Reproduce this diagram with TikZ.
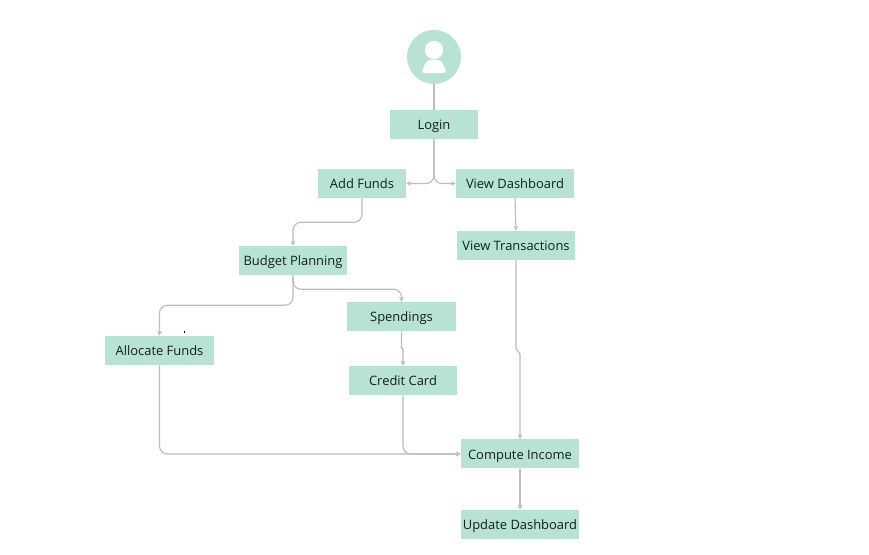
\documentclass[tikz,border=0pt]{standalone}
\usepackage{fontspec}
\setmainfont{Open Sans}
\usetikzlibrary{arrows.meta}
\definecolor{boxfill}{HTML}{B8E2D3}
\definecolor{linegrey}{HTML}{B9BDBC}
\definecolor{inktext}{HTML}{10211D}
\tikzset{
  flowbox/.style={fill=boxfill,text=inktext,inner sep=0pt,minimum height=21.75pt,text height=8.6pt,text depth=0.6pt,font=\fontsize{9.7pt}{11pt}\selectfont},
  wbox/.style={flowbox,minimum width=81.4pt},
  nbox/.style={flowbox,minimum width=66pt},
  mbox/.style={flowbox,minimum width=88.5pt},
  link/.style={draw=linegrey,line width=0.85pt,rounded corners=6pt},
  arrowlink/.style={link,-{Stealth[length=3.6pt,width=3.6pt]}}
}
\begin{document}
\begin{tikzpicture}[x=0.75pt,y=-0.75pt]
\useasboundingbox (0,0) rectangle (869,555);
\node[fill=boxfill,circle,minimum size=40.5pt,inner sep=0pt] (user) at (434,57) {};
\fill[white] (434,50) circle (9.2);
\fill[white,rounded corners=2.5pt] (421,73) -- (427,60) -- (441,60) -- (447,73) -- cycle;
\node[nbox] (login) at (434,124.5) {Login};
\node[nbox] (add) at (362,183.5) {Add Funds};
\node[mbox] (vd) at (515,183.5) {View Dashboard};
\node[mbox] (vt) at (516,245.5) {View Transactions};
\node[wbox] (bp) at (293,260.5) {Budget Planning};
\node[wbox] (sp) at (401.5,316.5) {Spendings};
\node[wbox] (af) at (159.5,350.5) {Allocate Funds};
\node[wbox] (cc) at (403,380.5) {Credit Card};
\node[mbox] (ci) at (520,454) {Compute Income};
\node[mbox] (ud) at (520,524.5) {Update Dashboard};
\fill[black] (183.6,331) rectangle (185,332.6);
\draw[link] (user.south) -- (login.north);
\draw[arrowlink] (login.south) |- (add.east);
\draw[arrowlink] (login.south) |- (vd.west);
\draw[arrowlink] (add.south) -- ++(0,24) -| (bp.north);
\draw[arrowlink] (bp.south) -- ++(0,30) -| (af.north);
\draw[arrowlink] (bp.south) -- ++(0,14) -| (sp.north);
\draw[arrowlink,rounded corners=1pt] (sp.south) -- ++(0,17) -- ++(1.5,1) -- (cc.north);
\draw[arrowlink] (af.south) |- (ci.west);
\draw[arrowlink] (cc.south) |- (ci.west);
\draw[arrowlink] (vd.south) -- (vt.north);
\draw[arrowlink,rounded corners=1.5pt] (vt.south) -- ++(0,90) -- ++(4,2) -- (ci.north);
\draw[arrowlink] (ci.south) -- (ud.north);
\end{tikzpicture}
\end{document}
